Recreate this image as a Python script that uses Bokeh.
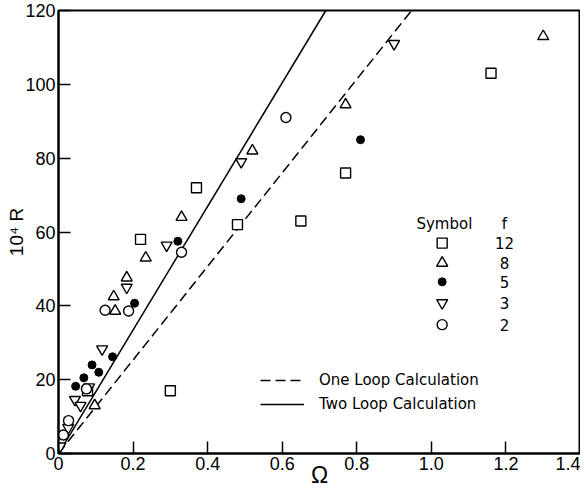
from bokeh.plotting import figure
from bokeh.models import Range1d, FixedTicker, Legend, LegendItem
from bokeh.core.properties import value
from bokeh.embed import file_html
from bokeh.resources import INLINE

# ---- data ----
f12_x = [0.22, 0.37, 0.48, 0.65, 0.77, 1.16, 0.30, 0.078]
f12_y = [58, 72, 62, 63, 76, 103, 17, 17]
f8_x = [1.30, 0.77, 0.52, 0.33, 0.234, 0.183, 0.148, 0.152, 0.097]
f8_y = [113, 94.5, 82, 64, 53, 47.6, 42.5, 38.6, 13]
f5_x = [0.81, 0.49, 0.32, 0.204, 0.145, 0.09, 0.108, 0.068, 0.046]
f5_y = [85, 69, 57.5, 40.7, 26.2, 24, 22, 20.5, 18.2]
f3_x = [0.90, 0.49, 0.29, 0.183, 0.117, 0.044, 0.059, 0.082, 0.026, 0.005]
f3_y = [111, 79, 56.4, 45, 28.3, 14.6, 13, 18, 7, 2]
f2_x = [0.61, 0.33, 0.125, 0.188, 0.075, 0.027, 0.013]
f2_y = [91, 54.5, 38.8, 38.6, 17.5, 8.9, 5.0]

one_loop_x = [0, 0.947]
one_loop_y = [0, 120]
two_loop_x = [0, 0.717]
two_loop_y = [0, 120]

x_ticks = [0, 0.2, 0.4, 0.6, 0.8, 1.0, 1.2, 1.4]
x_tick_labels = ["0", "0.2", "0.4", "0.6", "0.8", "1.0", "1.2", "1.4"]
y_ticks = [0, 20, 40, 60, 80, 100, 120]

legend_f = ["12", "8", "5", "3", "2"]

TICK_FONT = "Liberation Sans"
TEXT_FONT = "DejaVu Sans"

p = figure(width=580, height=492, output_backend="svg", toolbar_location=None,
           x_range=Range1d(0, 1.4), y_range=Range1d(0, 120),
           min_border_left=58, min_border_right=0, min_border_top=10, min_border_bottom=39)
p.background_fill_color = "white"
p.border_fill_color = "white"
p.outline_line_color = "black"
p.outline_line_width = 2
p.xgrid.visible = False
p.ygrid.visible = False

p.xaxis.ticker = FixedTicker(ticks=x_ticks)
p.xaxis.major_label_overrides = {t: l for t, l in zip(x_ticks, x_tick_labels)}
p.yaxis.ticker = FixedTicker(ticks=y_ticks)
for ax in (p.xaxis, p.yaxis):
    ax.axis_line_width = 2
    ax.axis_line_color = "black"
    ax.major_tick_in = 12
    ax.major_tick_out = 0
    ax.major_tick_line_width = 1.5
    ax.major_tick_line_color = "black"
    ax.minor_tick_line_color = None
    ax.major_label_text_font = TICK_FONT
    ax.major_label_text_font_size = "18px"
    ax.major_label_text_color = "black"
    ax.major_label_standoff = 3
    ax.axis_label_text_font = TICK_FONT
    ax.axis_label_text_font_style = "normal"
    ax.axis_label_text_color = "black"

p.xaxis.axis_label = "Ω"
p.xaxis.axis_label_text_font_size = "23px"
p.xaxis.axis_label_standoff = -11
p.yaxis.axis_label = "10⁴ R"
p.yaxis.axis_label_text_font_size = "19px"
p.yaxis.axis_label_standoff = -5

# theory lines
r_one = p.line(one_loop_x, one_loop_y, line_color="black", line_width=1.5, line_dash="10 5")
r_two = p.line(two_loop_x, two_loop_y, line_color="black", line_width=1.5)

# data markers
mk = dict(line_color="black", line_width=1.4, fill_color="white")
p.scatter(f12_x, f12_y, marker="square", size=10, **mk)
p.scatter(f8_x, f8_y, marker="triangle", size=11, **mk)
p.scatter(f3_x, f3_y, marker="inverted_triangle", size=11, **mk)
p.scatter(f2_x, f2_y, marker="circle", size=10, **mk)
p.scatter(f5_x, f5_y, marker="circle", size=8, line_color="black", fill_color="black")

# line legend
legend = Legend(items=[LegendItem(label="One Loop Calculation", renderers=[r_one]),
                       LegendItem(label="Two Loop Calculation", renderers=[r_two])],
                location=(202, 39), padding=0, spacing=4, margin=0,
                glyph_width=44, glyph_height=20, label_height=20, label_standoff=15,
                label_text_font=TEXT_FONT, label_text_font_size="15px",
                label_text_color="black",
                border_line_color=None, background_fill_alpha=0)
p.add_layout(legend)

# symbol legend (layout positions)
sym_x = 1.029
num_x = 1.196
row_y = [57.0, 51.6, 46.5, 40.8, 34.9]
p.scatter([sym_x], [row_y[0]], marker="square", size=10, **mk)
p.scatter([sym_x], [row_y[1]], marker="triangle", size=11, **mk)
p.scatter([sym_x], [row_y[2]], marker="circle", size=8, line_color="black", fill_color="black")
p.scatter([sym_x], [row_y[3]], marker="inverted_triangle", size=11, **mk)
p.scatter([sym_x], [row_y[4]], marker="circle", size=10, **mk)
p.text(x=[num_x] * 5, y=row_y, text=legend_f, text_font=value(TEXT_FONT),
       text_font_size="15px", text_align="center", text_baseline="middle", text_color="black")
p.text(x=[1.035, num_x], y=[62.1, 62.1], text=["Symbol", "f"], text_font=value(TEXT_FONT),
       text_font_size="15px", text_align="center", text_baseline="middle", text_color="black")

open("out.html", "w").write(file_html(p, INLINE))
